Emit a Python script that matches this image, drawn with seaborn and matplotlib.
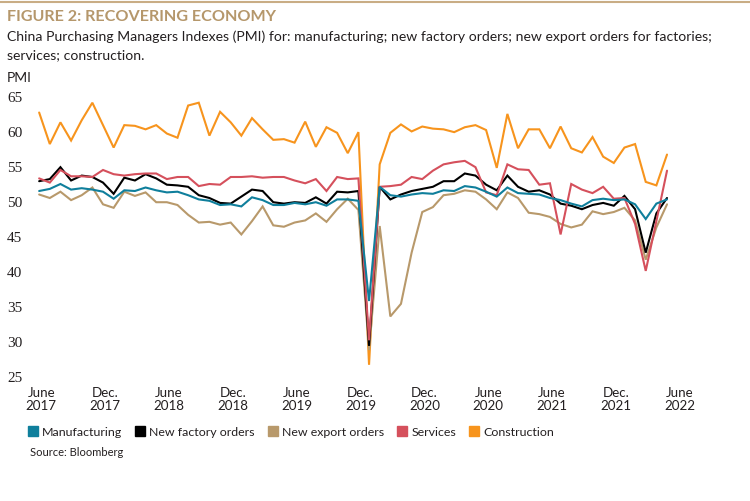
import matplotlib
matplotlib.use("Agg")
import matplotlib.pyplot as plt
import seaborn as sns
import pandas as pd
from matplotlib.lines import Line2D

sns.set_theme(style="white")
plt.rcParams["font.family"] = ["Lato", "DejaVu Sans"]
plt.rcParams["lines.solid_joinstyle"] = "miter"

# ---------------- data (monthly, Jul 2017 - Jun 2022) ----------------
months = pd.period_range("2017-07", "2022-06", freq="M")

manufacturing = [
    51.4, 51.7, 52.4, 51.6, 51.8, 51.6,
    51.3, 50.3, 51.5, 51.4, 51.9, 51.5, 51.2, 51.3, 50.8, 50.2, 50.0, 49.4,
    49.5, 49.2, 50.5, 50.1, 49.4, 49.4, 49.7, 49.5, 49.8, 49.3, 50.2, 50.2,
    50.0, 35.7, 52.0, 50.8, 50.6, 50.9, 51.1, 51.0, 51.5, 51.4, 52.1, 51.9,
    51.3, 50.6, 51.9, 51.1, 51.0, 50.9, 50.4, 50.1, 49.6, 49.2, 50.1, 50.3,
    50.1, 50.2, 49.5, 47.4, 49.6, 50.2,
]
new_factory_orders = [
    52.8, 53.1, 54.8, 52.9, 53.6, 53.4,
    52.6, 51.0, 53.3, 52.9, 53.8, 53.2, 52.3, 52.2, 52.0, 50.8, 50.4, 49.7,
    49.6, 50.6, 51.6, 51.4, 49.8, 49.6, 49.8, 49.7, 50.5, 49.6, 51.3, 51.2,
    51.4, 29.3, 52.0, 50.2, 50.9, 51.4, 51.7, 52.0, 52.8, 52.8, 53.9, 53.6,
    52.3, 51.5, 53.6, 52.0, 51.3, 51.5, 50.9, 49.6, 49.3, 48.8, 49.4, 49.7,
    49.3, 50.7, 48.8, 42.6, 48.2, 50.4,
]
new_export_orders = [
    50.9, 50.4, 51.3, 50.1, 50.8, 51.9,
    49.5, 49.0, 51.3, 50.7, 51.2, 49.8, 49.8, 49.4, 48.0, 46.9, 47.0, 46.6,
    46.9, 45.2, 47.1, 49.2, 46.5, 46.3, 46.9, 47.2, 48.2, 47.0, 48.8, 50.3,
    48.7, 28.7, 46.4, 33.5, 35.3, 42.6, 48.4, 49.1, 50.8, 51.0, 51.5, 51.3,
    50.2, 48.8, 51.2, 50.4, 48.3, 48.1, 47.7, 46.7, 46.2, 46.6, 48.5, 48.1,
    48.4, 49.0, 47.2, 41.6, 46.2, 49.5,
]
services = [
    53.2, 52.6, 54.4, 53.5, 53.5, 53.4,
    54.4, 53.8, 53.6, 53.8, 53.9, 53.9, 53.1, 53.4, 53.4, 52.1, 52.4, 52.3,
    53.4, 53.4, 53.5, 53.3, 53.4, 53.4, 52.9, 52.5, 53.1, 51.4, 53.4, 53.1,
    53.2, 30.1, 52.0, 52.1, 52.3, 53.4, 53.1, 54.3, 55.2, 55.5, 55.7, 54.8,
    51.2, 50.8, 55.2, 54.5, 54.4, 52.3, 52.5, 45.2, 52.4, 51.6, 51.1, 52.0,
    50.3, 50.4, 46.7, 40.0, 47.1, 54.3,
]
construction = [
    62.6, 58.1, 61.2, 58.6, 61.5, 64.0,
    60.8, 57.6, 60.8, 60.7, 60.2, 60.8, 59.6, 59.0, 63.6, 64.0, 59.3, 62.7,
    61.2, 59.3, 61.8, 60.2, 58.7, 58.8, 58.3, 61.3, 57.7, 60.5, 59.7, 56.8,
    59.8, 26.6, 55.2, 59.7, 60.9, 59.9, 60.6, 60.3, 60.2, 59.8, 60.5, 60.8,
    60.1, 54.7, 62.4, 57.5, 60.2, 60.2, 57.5, 60.6, 57.5, 56.9, 59.1, 56.3,
    55.4, 57.6, 58.1, 52.7, 52.2, 56.6,
]

series_names = ["Manufacturing", "New factory orders", "New export orders",
                "Services", "Construction"]
tick_labels = ["June\n2017", "Dec.\n2017", "June\n2018", "Dec.\n2018",
               "June\n2019", "Dec.\n2019", "Dec.\n2020", "June\n2020",
               "June\n2021", "Dec.\n2021", "June\n2022"]
y_ticks = [25, 30, 35, 40, 45, 50, 55, 60, 65]

colors = {
    "Manufacturing": "#0f7f9c",
    "New factory orders": "#000000",
    "New export orders": "#b8996b",
    "Services": "#d5505c",
    "Construction": "#f7941d",
}

df = pd.DataFrame({
    "month": months,
    "Manufacturing": manufacturing,
    "New factory orders": new_factory_orders,
    "New export orders": new_export_orders,
    "Services": services,
    "Construction": construction,
})
# months elapsed since June 2017
df["t"] = (df["month"].dt.year - 2017) * 12 + df["month"].dt.month - 6
long = df.melt(id_vars=["t"], value_vars=series_names,
               var_name="series", value_name="pmi")

# ---------------- figure ----------------
W, H = 750, 502
fig = plt.figure(figsize=(W / 100, H / 100), dpi=100)
ax = fig.add_axes([25 / W, 1 - 377 / H, (700 - 25) / W, (377 - 96.7) / H])

draw_order = ["Construction", "New export orders", "New factory orders",
              "Services", "Manufacturing"]
sns.lineplot(data=long, x="t", y="pmi", hue="series", hue_order=draw_order,
             palette=colors, linewidth=1.5, legend=False, ax=ax,
             estimator=None, errorbar=None)

ax.set_xlim(-0.33, 63.1)
ax.set_ylim(25, 65)
for s in ax.spines.values():
    s.set_visible(False)
ax.grid(False)
ax.set_xlabel("")
ax.set_ylabel("")

text_col = "#231f20"
ax.set_yticks(y_ticks)
ax.set_yticklabels([str(v) for v in y_ticks], fontfamily="Liberation Serif",
                   fontsize=11, color=text_col, ha="left")
ax.tick_params(axis="y", length=0, pad=13)

ax.set_xticks([6 * k + 1.2 for k in range(len(tick_labels))])
ax.set_xticklabels(tick_labels, fontsize=9.6, color=text_col)
for lbl in ax.get_xticklabels():
    lbl.set_linespacing(1.1)
ax.tick_params(axis="x", length=0, pad=7)

# top rule
fig.add_artist(Line2D([0, 1], [1 - 3 / H, 1 - 3 / H], transform=fig.transFigure,
                      color="#c9ad85", lw=1.5))

fig.text(7 / W, 1 - 17 / H, "FIGURE 2: RECOVERING ECONOMY", fontsize=11.6,
         fontweight="bold", color="#b5976b", va="center", ha="left")
fig.text(7 / W, 1 - 37 / H,
         "China Purchasing Managers Indexes (PMI) for: manufacturing; new factory orders; new export orders for factories;",
         fontsize=10.05, color=text_col, va="center", ha="left")
fig.text(7 / W, 1 - 55 / H, "services; construction.", fontsize=10.05,
         color=text_col, va="center", ha="left")
fig.text(7 / W, 1 - 78 / H, "PMI", fontsize=10, color=text_col,
         va="center", ha="left")

handles = [Line2D([0], [0], marker="s", ls="", color=colors[n], markersize=7)
           for n in series_names]
fig.legend(handles, series_names, loc="center left",
           bbox_to_anchor=(27 / W, 1 - 433 / H), ncol=5, frameon=False,
           handletextpad=0.3, columnspacing=1.0, handlelength=0.9,
           fontsize=8.9, borderaxespad=0, borderpad=0, labelcolor=text_col)

fig.text(30 / W, 1 - 453 / H, "Source: Bloomberg", fontsize=8,
         color=text_col, va="center", ha="left")

fig.savefig("out.png", dpi=100)
